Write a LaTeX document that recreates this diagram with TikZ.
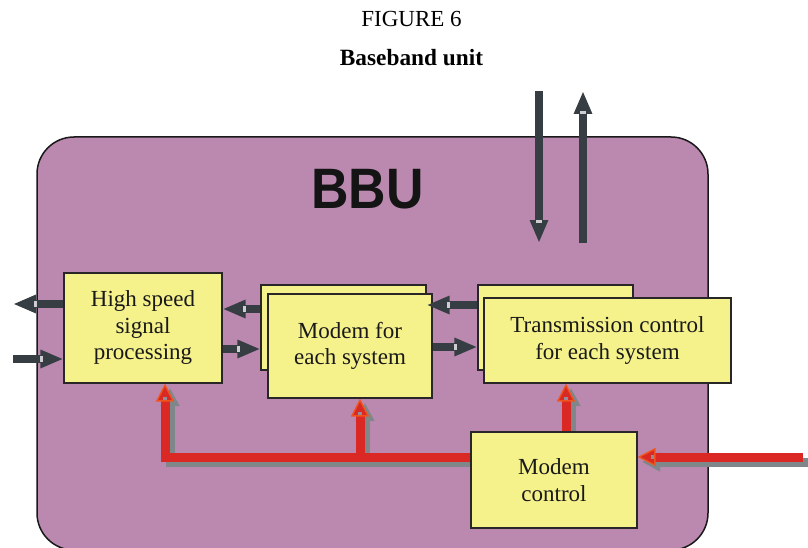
\documentclass[tikz,border=0pt]{standalone}
\usepackage{graphicx}
\usepackage{fontspec}
\setmainfont{Liberation Serif}
\newfontfamily\bbufont{Liberation Sans}
\usetikzlibrary{arrows.meta,decorations.markings}
\definecolor{bbupurple}{RGB}{187,137,176}
\definecolor{boxyellow}{RGB}{245,241,139}
\definecolor{boxline}{RGB}{40,38,38}
\definecolor{darkarrow}{RGB}{55,62,67}
\definecolor{notchgray}{RGB}{205,205,210}
\definecolor{redarrow}{RGB}{218,40,36}
\definecolor{orangeedge}{RGB}{240,84,30}
\definecolor{shadowgray}{RGB}{127,135,139}
\definecolor{holegray}{RGB}{150,140,150}
\tikzset{
  box/.style={draw=boxline, line width=1.1pt, fill=boxyellow, inner sep=0pt, align=center,
    text=black!90, font=\fontsize{23}{26.5}\selectfont},
  darr/.style={draw=darkarrow, line width=8.5pt,
    -{Triangle[length=23pt,width=17pt]},
    postaction={decorate, decoration={markings,
      mark=at position -22pt with {\fill[notchgray] (-1.5pt,-2.6pt) rectangle (1.5pt,2.6pt);}}}},
  rarr/.style={draw=redarrow, line width=9pt,
    -{Triangle[length=18pt,width=18pt,fill=redarrow,color=orangeedge,line width=1.4pt]},
    postaction={decorate, decoration={markings,
      mark=at position -15pt with {\fill[holegray] (-1.5pt,-2.4pt) rectangle (1.5pt,2.4pt);}}}},
  rshadow/.style={draw=shadowgray, line width=9pt,
    -{Triangle[length=18pt,width=18pt]},
    transform canvas={xshift=5pt,yshift=-5pt}},
}
\begin{document}
\begin{tikzpicture}[x=1pt,y=-1pt]
\useasboundingbox (0,0) rectangle (808,548);
% titles
\node[anchor=base, font=\fontsize{23}{23}\selectfont] (fig) at (411.5,27) {FIGURE 6};
\node[anchor=base, font=\fontsize{23.3}{23.3}\selectfont\bfseries] (cap) at (411.5,66) {Baseband unit};
% BBU frame
\draw[draw=black!90, line width=1.5pt, fill=bbupurple, rounded corners=37pt] (37,137) rectangle (708,550);
\node[anchor=base, text=black!92] (bbutitle) at (367.5,208)
  {\bbufont\bfseries\fontsize{57}{57}\selectfont\scalebox{0.91}[1]{BBU}};
% node positions (invisible placeholders first for shadow routing)
\path (143,328) coordinate (hsspc) (350,346) coordinate (modemc)
      (607.5,340.5) coordinate (tcc) (554,480) coordinate (mcc);
% red arrow shadows (behind boxes)
\coordinate (junc) at (360,457);
\coordinate (rin) at (803,457);
\coordinate (mcw) at (471,457);
\coordinate (mcn) at (566,432);
\coordinate (mce) at (637,457);
\coordinate (hsspb) at (165,383);
\coordinate (modemb) at (360,398);
\coordinate (tcb) at (566,383);
\draw[rshadow] (mcw) -| (hsspb);
\draw[rshadow] (junc) -- (modemb);
\draw[rshadow] (mcn) -- (tcb);
\draw[rshadow] (rin) -- (mce);
% boxes
\node[box, minimum width=158pt, minimum height=110pt] (hssp) at (hsspc) {High speed\\signal\\processing};
\node[box, minimum width=165pt, minimum height=85pt] (modemback) at (343.5,327.5) {};
\node[box, minimum width=164pt, minimum height=104pt] (modem) at (modemc) {Modem for\\each system};
\node[box, minimum width=155pt, minimum height=85pt] (tcback) at (555.5,327.5) {};
\node[box, minimum width=247pt, minimum height=85pt] (tc) at (tcc) {Transmission control\\for each system};
\node[box, minimum width=166pt, minimum height=96pt] (mc) at (mcc) {Modem\\control};
% free ends
\coordinate (lout) at (13,304);
\coordinate (lin) at (13,359);
\coordinate (dtop) at (539,91);
\coordinate (dbot) at (539,243);
\coordinate (ubot) at (583,243);
\coordinate (utop) at (583,91);
% dark arrows
\draw[darr] (hssp.west |- 0,304) -- (lout);
\draw[darr] (lin) -- (hssp.west |- 0,359);
\draw[darr] (modemback.west |- 0,309) -- (hssp.east |- 0,309);
\draw[darr] (hssp.east |- 0,349) -- (modemback.west |- 0,349);
\draw[darr] (tcback.west |- 0,305) -- (modemback.east |- 0,305);
\draw[darr] (modem.east |- 0,347) -- (tcback.west |- 0,347);
\draw[darr] (dtop) -- (dbot);
\draw[darr] (ubot) -- (utop);
% red arrows
\draw[rarr] (mc.west |- 0,457) -| (hssp.south -| 165,0);
\draw[rarr] (junc) -- (modem.south -| 360,0);
\draw[rarr] (mc.north -| 566,0) -- (tc.south -| 566,0);
\draw[rarr] (rin) -- (mc.east |- 0,457);
\end{tikzpicture}
\end{document}
